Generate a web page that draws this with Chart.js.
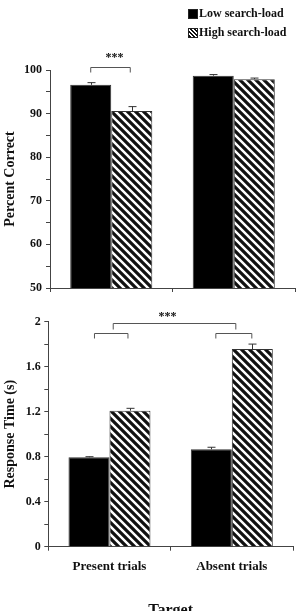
<!DOCTYPE html>
<html><head><meta charset="utf-8">
<script src="https://cdn.jsdelivr.net/npm/chart.js@4/dist/chart.umd.min.js"></script>
<style>
html,body{margin:0;padding:0;width:298px;height:611px;overflow:hidden;background:#fff;}
#c1{position:absolute;left:0;top:0;}
#c2{position:absolute;left:0;top:300px;}
.lg{position:absolute;font:bold 12px "Liberation Serif",serif;line-height:12px;color:#111;white-space:nowrap;}
.sq{position:absolute;width:8px;height:8px;border:0.5px solid #222;}
</style></head><body>
<canvas id="c1" width="298" height="300"></canvas>
<canvas id="c2" width="298" height="330"></canvas>
<div class="sq" style="left:188px;top:9px;background:#000;"></div>
<div class="lg" style="left:199px;top:6.7px;">Low search-load</div>
<div class="sq" style="left:188px;top:28px;background:repeating-linear-gradient(45deg,#111 0 1.6px,#fff 1.6px 3px);"></div>
<div class="lg" style="left:199px;top:26px;">High search-load</div>
<script>
// ---- data ----
const categories = ['Present trials', 'Absent trials'];
const seriesNames = ['Low search-load', 'High search-load'];
const accLow = [96.6, 98.7];
const accHigh = [90.6, 97.9];
const accLowErr = [0.5, 0.25];
const accHighErr = [1.0, 0.25];
const rtLow = [0.795, 0.866];
const rtHigh = [1.209, 1.757];
const rtLowErr = [0.005, 0.018];
const rtHighErr = [0.021, 0.044];
const accTicks = [50, 60, 70, 80, 90, 100];
const rtTicks = [0, 0.4, 0.8, 1.2, 1.6, 2];

const FONT = '"Liberation Serif", "Times New Roman", serif';
const AX = '#444';
const TXT = '#111';

function makeHatch() {
  const c = document.createElement('canvas');
  c.width = 8; c.height = 8;
  const g = c.getContext('2d');
  g.fillStyle = '#fff'; g.fillRect(0, 0, 8, 8);
  g.strokeStyle = '#111'; g.lineWidth = 3.2;
  g.beginPath();
  for (let k = -1; k <= 1; k++) { g.moveTo(k * 8 - 2, -2); g.lineTo(k * 8 + 10, 10); }
  g.stroke();
  return g.createPattern(c, 'repeat');
}
const hatch = makeHatch();

const annot = {
  id: 'annot',
  afterDraw(chart, args, opts) {
    const ctx = chart.ctx;
    const ys = chart.scales.y;
    ctx.save();
    ctx.strokeStyle = '#333';
    ctx.lineWidth = 1;
    // error bars (upward only)
    (opts.errors || []).forEach((errs, di) => {
      const meta = chart.getDatasetMeta(di);
      meta.data.forEach((bar, i) => {
        const v = chart.data.datasets[di].data[i];
        const x = Math.round(bar.x) + 0.5;
        const y0 = ys.getPixelForValue(v);
        const y1 = ys.getPixelForValue(v + errs[i]);
        ctx.beginPath();
        ctx.moveTo(x, y0); ctx.lineTo(x, y1);
        ctx.moveTo(x - 4, y1); ctx.lineTo(x + 4, y1);
        ctx.stroke();
      });
    });
    // brackets
    const done = [];
    ctx.strokeStyle = '#555';
    (opts.brackets || []).forEach(b => {
      let xa, xb;
      if (b.between) {
        const A = done[b.between[0]], B = done[b.between[1]];
        xa = (A[0] + A[1]) / 2 + b.dx; xb = (B[0] + B[1]) / 2 + b.dx;
      } else {
        xa = chart.getDatasetMeta(b.a[0]).data[b.a[1]].x + b.a[2];
        xb = chart.getDatasetMeta(b.b[0]).data[b.b[1]].x + b.b[2];
      }
      done.push([xa, xb]);
      const y = Math.round(ys.getPixelForValue(b.y)) + 0.5;
      ctx.beginPath();
      ctx.moveTo(xa, y + b.leg); ctx.lineTo(xa, y); ctx.lineTo(xb, y); ctx.lineTo(xb, y + b.leg);
      ctx.stroke();
      if (b.stars) {
        ctx.fillStyle = TXT;
        ctx.font = 'bold 12px ' + FONT;
        ctx.textAlign = 'center';
        ctx.textBaseline = 'alphabetic';
        ctx.fillText('***', (xa + xb) / 2 + b.stars.dx, y + b.stars.dy);
      }
    });
    ctx.restore();
  }
};

function tickFmt(list) {
  return v => list.some(t => Math.abs(t - v) < 1e-6) ? String(Math.round(v * 10) / 10) : '';
}

new Chart(document.getElementById('c1'), {
  type: 'bar',
  data: {
    labels: categories,
    datasets: [
      { label: seriesNames[0], data: accLow, backgroundColor: '#000', borderColor: '#333', borderWidth: 1 },
      { label: seriesNames[1], data: accHigh, backgroundColor: hatch, borderColor: '#333', borderWidth: 1 }
    ]
  },
  options: {
    responsive: false, animation: false, devicePixelRatio: 1,
    layout: { padding: { top: 70, right: 3, left: 0, bottom: 0 } },
    datasets: { bar: { categoryPercentage: 0.67, barPercentage: 1 } },
    plugins: {
      legend: { display: false }, tooltip: { enabled: false },
      annot: {
        errors: [accLowErr, accHighErr],
        brackets: [{ a: [0, 0, 0], b: [1, 0, -1.5], y: 100.76, leg: 5, stars: { dx: 4, dy: -6.5 } }]
      }
    },
    scales: {
      x: {
        grid: { offset: true, drawOnChartArea: false, drawTicks: true, tickLength: 4, color: AX },
        border: { color: AX },
        ticks: { display: false },
        afterFit(s) { s.height = 12; }
      },
      y: {
        min: 50, max: 100,
        ticks: { stepSize: 5, autoSkip: false, callback: tickFmt(accTicks), color: TXT, padding: 4, font: { family: FONT, size: 12, weight: 'bold' } },
        grid: { drawOnChartArea: false, tickLength: 4, color: AX },
        border: { color: AX },
        title: { display: true, text: 'Percent Correct', color: TXT, padding: { top: 2, bottom: 0 }, font: { family: FONT, size: 14, weight: 'bold' } },
        afterFit(s) { s.width = 50; }
      }
    }
  },
  plugins: [annot]
});

new Chart(document.getElementById('c2'), {
  type: 'bar',
  data: {
    labels: categories,
    datasets: [
      { label: seriesNames[0], data: rtLow, backgroundColor: '#000', borderColor: '#333', borderWidth: 1 },
      { label: seriesNames[1], data: rtHigh, backgroundColor: hatch, borderColor: '#333', borderWidth: 1 }
    ]
  },
  options: {
    responsive: false, animation: false, devicePixelRatio: 1,
    layout: { padding: { top: 21.7, right: 5, left: 0, bottom: 0 } },
    datasets: { bar: { categoryPercentage: 0.67, barPercentage: 1 } },
    plugins: {
      legend: { display: false }, tooltip: { enabled: false },
      annot: {
        errors: [rtLowErr, rtHighErr],
        brackets: [
          { a: [0, 0, 5.5], b: [1, 0, -2], y: 1.902, leg: 5 },
          { a: [0, 1, 4.5], b: [1, 1, -0.5], y: 1.902, leg: 5 },
          { between: [0, 1], dx: 2, y: 1.986, leg: 6, stars: { dx: -7, dy: -4 } }
        ]
      }
    },
    scales: {
      x: {
        grid: { offset: true, drawOnChartArea: false, drawTicks: true, tickLength: 4, color: AX },
        border: { color: AX },
        ticks: { color: TXT, padding: 8, font: { family: FONT, size: 13, weight: 'bold' } },
        title: { display: true, text: 'Target', color: TXT, padding: { top: 0, bottom: 10 }, font: { family: FONT, size: 16, weight: 'bold' } },
        afterFit(s) { s.height = 83.3; }
      },
      y: {
        min: 0, max: 2,
        ticks: { stepSize: 0.2, autoSkip: false, callback: tickFmt(rtTicks), color: TXT, padding: 3.5, font: { family: FONT, size: 12, weight: 'bold' } },
        grid: { drawOnChartArea: false, tickLength: 4, color: AX },
        border: { color: AX },
        title: { display: true, text: 'Response Time (s)', color: TXT, padding: { top: 2, bottom: 0 }, font: { family: FONT, size: 14, weight: 'bold' } },
        afterFit(s) { s.width = 48.3; }
      }
    }
  },
  plugins: [annot]
});
</script>
</body></html>
